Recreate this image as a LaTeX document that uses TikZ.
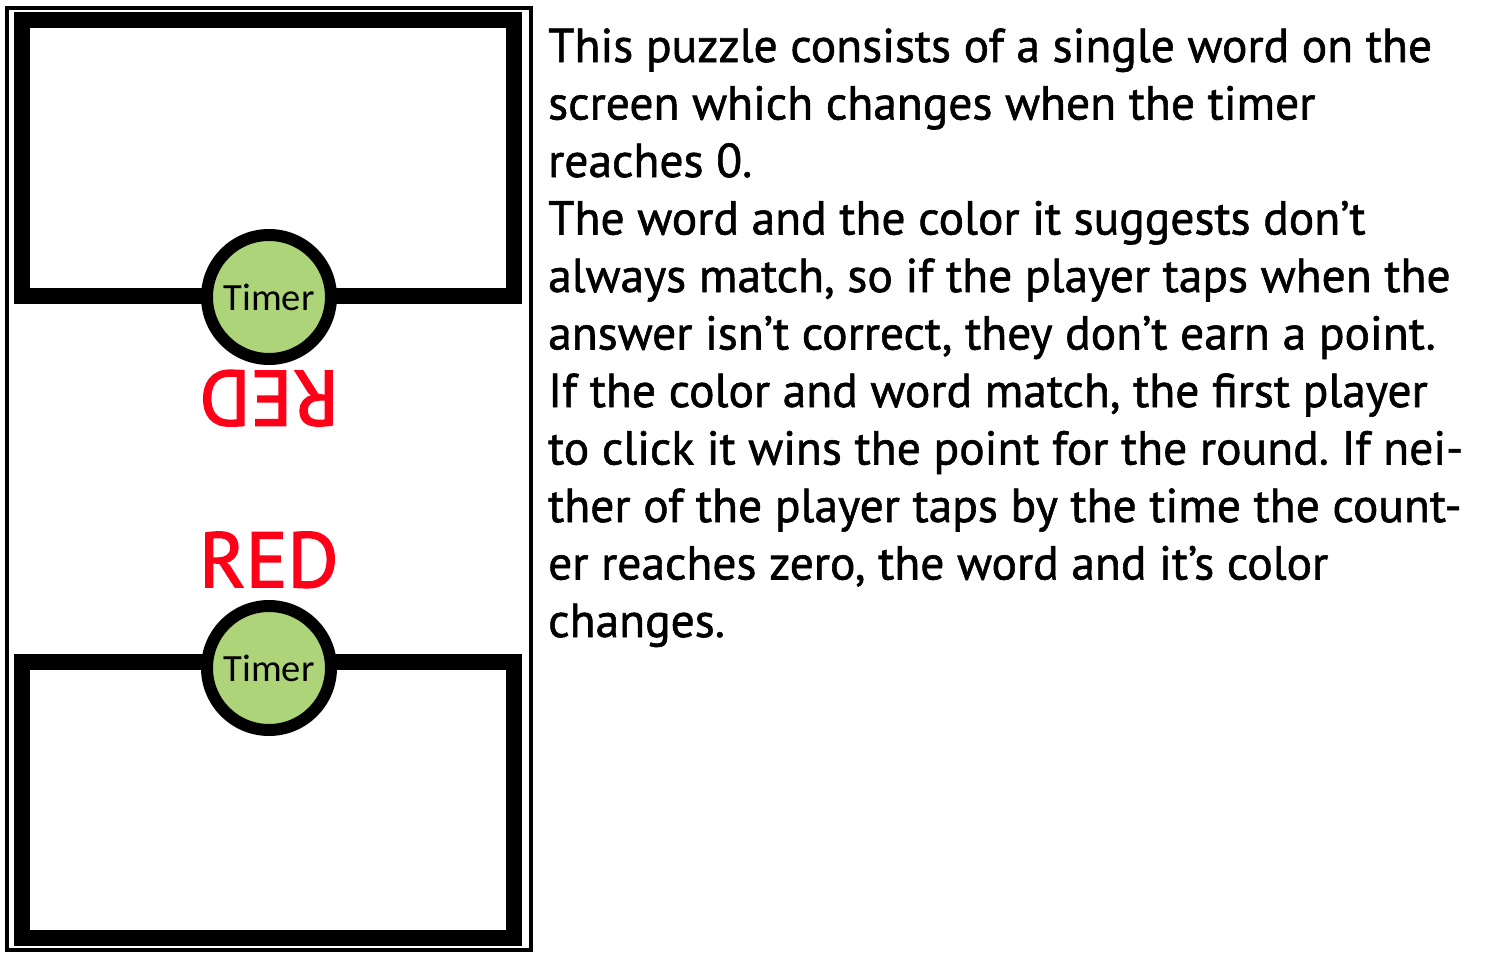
\documentclass[tikz,border=0pt]{standalone}
\usepackage{fontspec}
\setmainfont{PT Sans}
\newfontfamily\rulesfont{PT Sans}[FakeBold=1.2]
\newfontfamily\wordfont{PT Sans}[FakeBold=2]
\newfontfamily\timerfont{Carlito}
\usepackage{tikz}
\usetikzlibrary{positioning}
\definecolor{timergreen}{RGB}{173,212,120}
\definecolor{wordred}{RGB}{255,0,24}
\frenchspacing

\begin{document}
\begin{tikzpicture}[
        x=1pt, y=-1pt,
        screen/.style={line width=16pt},
        timer/.style={circle, draw, line width=12pt, fill=timergreen,
                      minimum size=124pt, inner sep=0pt,
                      font=\timerfont\fontsize{38.5}{42}\selectfont},
        word/.style={text=wordred, inner sep=0pt,
                     font=\wordfont\fontsize{78}{80}\selectfont}
        ]
        \useasboundingbox (0,0) rectangle (1500,960);
        % phone frame and the two player halves
        \draw[line width=4pt] (7,8) rectangle (530.5,950);
        \draw[screen] (22,20) rectangle (514,296);
        \draw[screen] (22,662) rectangle (514,938);
        \node[timer] (timerTop) at (269,297) {Timer};
        \node[timer] (timerBottom) at (269,668) {Timer};
        \node[word] (wordBottom) [above=12pt of timerBottom] {RED};
        \node[word, rotate=180, anchor=south] (wordTop)
              at ([yshift=-5pt]timerTop.south) {RED};
        % rules (base anchor = last line)
        \node[anchor=base west, align=left, inner sep=0pt,
              font=\rulesfont\fontsize{47.5}{57.5}\selectfont] (rules) at (548,637)
              {This puzzle consists of a single word on the\\
               screen which changes when the timer\\
               reaches 0.\\
               The word and the color it suggests don’t\\
               always match, so if the player taps when the\\
               answer isn’t correct, they don’t earn a point.\\
               If the color and word match, the first player\\
               to click it wins the point for the round. If nei-\\
               ther of the player taps by the time the count-\\
               er reaches zero, the word and it’s color\\
               changes.};
\end{tikzpicture}
\end{document}
